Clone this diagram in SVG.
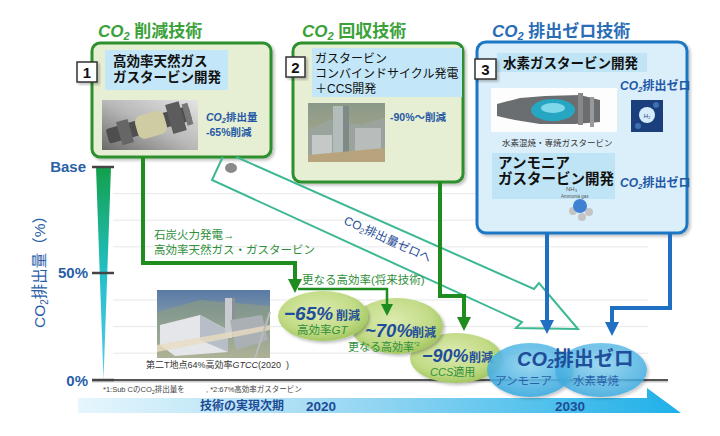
<svg xmlns="http://www.w3.org/2000/svg" width="720" height="436" viewBox="0 0 720 436">
<defs>
<style>
text{font-family:'Liberation Sans','Noto Sans CJK JP',sans-serif}
.ttl-g{fill:#3ba23b;font-size:17px;font-weight:bold}
.ttl-b{fill:#2a6db6;font-size:17px;font-weight:bold}
.boxg{fill:#e6eed3;stroke:#2f8f2f;stroke-width:3}
.boxb{fill:#dbeffa;stroke:#1f77c4;stroke-width:3}
.band{fill:#c3e7f8}
.num{fill:#fff;stroke:#333;stroke-width:1.5}
.numt{font-size:15px;font-weight:bold;fill:#111;text-anchor:middle}
.lbl{font-size:13.5px;font-weight:bold;fill:#111}
.blu{fill:#2458a6;font-weight:bold}
.grid{stroke:#e8e8e8;stroke-width:1}
.cg{fill:none;stroke:#1e8c1e;stroke-width:4}
.cb{fill:none;stroke:#1f70c2;stroke-width:4}
.gtx{fill:#2f8f3a;font-size:11.5px}
.big{fill:#1f4e9a;font-weight:bold;font-style:italic}
.sm{fill:#1f4e9a;font-weight:bold;font-size:12px}
.ax{fill:#2a5fa8;font-weight:bold;font-size:15px;text-anchor:end}
.tick{stroke:#444;stroke-width:2.5}
</style>
<marker id="ag" markerUnits="userSpaceOnUse" viewBox="0 0 14 14" markerWidth="14" markerHeight="14" refX="2" refY="7" orient="auto"><path d="M0,0 L14,7 L0,14z" fill="#1e8c1e"/></marker>
<marker id="ag2" markerUnits="userSpaceOnUse" viewBox="0 0 12 12" markerWidth="12" markerHeight="12" refX="2" refY="6" orient="auto"><path d="M0,0 L12,6 L0,12z" fill="#1e8c1e"/></marker>
<marker id="ab" markerUnits="userSpaceOnUse" viewBox="0 0 14 14" markerWidth="14" markerHeight="14" refX="2" refY="7" orient="auto"><path d="M0,0 L14,7 L0,14z" fill="#1f70c2"/></marker>
<linearGradient id="wedge" x1="0" y1="0" x2="0" y2="1"><stop offset="0" stop-color="#13a04a"/><stop offset="0.5" stop-color="#22c0c8"/><stop offset="1" stop-color="#5cc8ee"/></linearGradient>
<linearGradient id="tl" x1="0" y1="0" x2="1" y2="0"><stop offset="0" stop-color="#e6f6fd"/><stop offset="0.4" stop-color="#a6dcf4"/><stop offset="1" stop-color="#1eb0e8"/></linearGradient>
<radialGradient id="eg" cx="0.45" cy="0.4" r="0.6"><stop offset="0" stop-color="#dcebb0"/><stop offset="0.7" stop-color="#c2db86"/><stop offset="1" stop-color="#a4c862"/></radialGradient>
<radialGradient id="eb" cx="0.5" cy="0.4" r="0.6"><stop offset="0" stop-color="#8fd6f4"/><stop offset="1" stop-color="#35a8e0"/></radialGradient>
<linearGradient id="p1" x1="0" y1="1" x2="1" y2="0"><stop offset="0" stop-color="#6a6a6a"/><stop offset="0.5" stop-color="#b8b8b8"/><stop offset="1" stop-color="#e4e4e4"/></linearGradient>
<linearGradient id="p2" x1="0" y1="0" x2="0" y2="1"><stop offset="0" stop-color="#8a9a88"/><stop offset="1" stop-color="#b4aa8c"/></linearGradient>
<linearGradient id="p4" x1="0" y1="0" x2="0" y2="1"><stop offset="0" stop-color="#5a7aa6"/><stop offset="0.35" stop-color="#7a94a8"/><stop offset="1" stop-color="#d8cfb8"/></linearGradient>
<filter id="sh" x="-10%" y="-10%" width="130%" height="130%"><feDropShadow dx="2" dy="2" stdDeviation="1.5" flood-color="#000" flood-opacity="0.25"/></filter>
</defs>
<rect width="720" height="436" fill="#fff"/>

<!-- grid -->
<g id="grid">
<line class="grid" x1="113" y1="193.6" x2="648" y2="193.6"/>
<line class="grid" x1="113" y1="220.2" x2="648" y2="220.2"/>
<line class="grid" x1="113" y1="246.8" x2="648" y2="246.8"/>
<line class="grid" x1="113" y1="300" x2="648" y2="300"/>
<line class="grid" x1="113" y1="326.6" x2="648" y2="326.6"/>
<line class="grid" x1="113" y1="353.2" x2="648" y2="353.2"/>
</g>

<!-- axis -->
<g id="axis">
<polygon points="96,167 111,167 103.5,380" fill="url(#wedge)"/>
<line x1="92" y1="381.5" x2="668" y2="381.5" stroke="#ccc" stroke-width="2"/>
<line x1="92" y1="380" x2="668" y2="380" stroke="#555" stroke-width="2"/>
<line class="tick" x1="92" y1="167" x2="114" y2="167"/>
<line class="tick" x1="92" y1="273" x2="114" y2="273"/>
<line class="tick" x1="92" y1="380" x2="114" y2="380"/>
<text class="ax" x="86" y="172">Base</text>
<text class="ax" x="88" y="278">50%</text>
<text class="ax" x="88" y="386">0%</text>
<text transform="translate(45,268) rotate(-90)" text-anchor="middle" font-size="15.5" fill="#2a5fa8">CO<tspan font-size="10" dy="3">2</tspan><tspan dy="-3">排出量（%）</tspan></text>
</g>

<!-- timeline -->
<g id="timeline">
<polygon points="78,398 647,398 647,388 681,413 78,413" fill="url(#tl)"/>
<text x="200" y="410" font-size="12" font-weight="bold" fill="#1e4d96">技術の実現次期</text>
<text x="306" y="411" font-size="13.5" font-weight="bold" fill="#1e4d96">2020</text>
<text x="555" y="411" font-size="13.5" font-weight="bold" fill="#1e4d96">2030</text>
</g>

<!-- footnote -->
<text x="103" y="392" font-size="7.5" fill="#444">*1:Sub CのCO<tspan font-size="5.5" dy="1.5">2</tspan><tspan dy="-1.5">排出量を</tspan></text>
<text x="206" y="392" font-size="7.5" fill="#444">,  *2:67%高効率ガスタービン</text>

<!-- bottom photo -->
<g id="photo-gtcc">
<rect x="157" y="290" width="113" height="68" fill="url(#p4)"/>
<polygon points="157,312 200,300 270,306 270,358 157,358" fill="#8f9f7f" opacity="0.6"/>
<polygon points="160,325 200,315 228,330 228,352 175,356 160,345" fill="#e4e6ea"/>
<polygon points="200,315 228,330 228,352 200,340" fill="#b8bec8"/>
<rect x="225" y="298" width="7" height="40" fill="#c8ccd0"/>
<rect x="232" y="298" width="3" height="40" fill="#8a9096"/>
<polygon points="230,320 262,315 268,340 236,350" fill="#aab0b4"/>
<polygon points="157,345 270,325 270,330 157,352" fill="#e8dcc0" opacity="0.8"/>
<line x1="255" y1="358" x2="270" y2="312" stroke="#bbb" stroke-width="2"/>
<text x="146" y="368" font-size="9" fill="#333">第二T地点64%高効率<tspan font-style="italic">GTCC</tspan>(2020</text>
<text x="286" y="368" font-size="9" fill="#333">)</text>
</g>

<!-- Box 1 -->
<g id="node-1">
<text class="ttl-g" x="98" y="37"><tspan font-style="italic">CO</tspan><tspan font-style="italic" font-size="11" dy="3">2</tspan><tspan dy="-3"> 削減技術</tspan></text>
<rect class="boxg" x="92" y="43" width="179" height="114" rx="8" filter="url(#sh)"/>
<rect class="band" x="105" y="50" width="123" height="40"/>
<text class="lbl" x="113" y="66">高効率天然ガス</text>
<text class="lbl" x="113" y="82">ガスタービン開発</text>
<rect class="num" x="77" y="62" width="20" height="20" filter="url(#sh)"/>
<text class="numt" x="87" y="78">1</text>
<rect x="102" y="100" width="96" height="50" fill="url(#p1)"/>
<g transform="rotate(-16 150 125)">
<rect x="106" y="117" width="86" height="15" rx="3" fill="#4e4e4e"/>
<rect x="118" y="113" width="12" height="24" fill="#666"/>
<rect x="136" y="113" width="30" height="24" rx="7" fill="#cfcca4"/>
<rect x="170" y="110" width="14" height="30" fill="#5c5c5c"/>
<rect x="186" y="114" width="6" height="22" fill="#777"/>
</g>
<text class="blu" x="206" y="121" font-size="10.5"><tspan font-style="italic">CO</tspan><tspan font-style="italic" font-size="7.5" dy="2">2</tspan><tspan dy="-2">排出量</tspan></text>
<text class="blu" x="206" y="136" font-size="10.5">-65%削減</text>
</g>

<!-- Box 2 -->
<g id="node-2">
<text class="ttl-g" x="302" y="37"><tspan font-style="italic">CO</tspan><tspan font-style="italic" font-size="11" dy="3">2</tspan><tspan dy="-3"> 回収技術</tspan></text>
<rect class="boxg" x="293" y="43" width="170" height="139" rx="8" filter="url(#sh)"/>
<rect class="band" x="312" y="48" width="150" height="49"/>
<text x="315" y="63" font-size="12" fill="#111">ガスタービン</text>
<text x="315" y="78" font-size="12" fill="#111">コンバインドサイクル発電</text>
<text x="315" y="93" font-size="12" fill="#111">＋CCS開発</text>
<rect class="num" x="286" y="57" width="19" height="20" filter="url(#sh)"/>
<text class="numt" x="295.5" y="73">2</text>
<rect x="308" y="103" width="77" height="59" fill="url(#p2)"/>
<polygon points="308,130 330,120 360,125 385,118 385,162 308,162" fill="#9aa49c"/>
<rect x="312" y="135" width="20" height="20" fill="#c4c8c6"/>
<rect x="355" y="128" width="26" height="26" fill="#b8bcba"/>
<rect x="333" y="106" width="10" height="50" fill="#b2bcba"/>
<rect x="343" y="106" width="6" height="50" fill="#7f8a88"/>
<polygon points="308,155 385,148 385,162 308,162" fill="#b8a47c"/>
<text class="blu" x="390" y="121" font-size="10.5">-90%～削減</text>
</g>

<!-- Box 3 -->
<g id="node-3">
<text class="ttl-b" x="492" y="37"><tspan font-style="italic">CO</tspan><tspan font-style="italic" font-size="11" dy="3">2</tspan><tspan dy="-3"> 排出ゼロ技術</tspan></text>
<rect class="boxb" x="477" y="42" width="210" height="191" rx="9" filter="url(#sh)"/>
<rect x="497" y="53" width="150" height="19" fill="#bfe4f6"/>
<text class="lbl" x="503" y="68">水素ガスタービン開発</text>
<rect class="num" x="475" y="59" width="21" height="20" filter="url(#sh)"/>
<text class="numt" x="485.5" y="75">3</text>
<rect x="491" y="88" width="126" height="44" fill="#fdfdfd"/>
<polygon points="497,104 520,98 545,96 580,95 600,100 600,122 575,124 540,124 515,120 497,116" fill="#6a6e70"/>
<rect x="578" y="93" width="5" height="32" fill="#888"/>
<rect x="590" y="97" width="4" height="30" fill="#999"/>
<ellipse cx="553" cy="110" rx="22" ry="11" fill="#26a6c2"/>
<ellipse cx="553" cy="108" rx="12" ry="5" fill="#7fd8e8"/>
<text x="502" y="146" font-size="8.5" fill="#333">水素混焼・専焼ガスタービン</text>
<text class="blu" x="620" y="90" font-size="12"><tspan font-style="italic">CO</tspan><tspan font-style="italic" font-size="8" dy="2">2</tspan><tspan dy="-2">排出ゼロ</tspan></text>
<rect x="631" y="100" width="32" height="32" fill="#1b3f7c"/>
<circle cx="638" cy="126" r="3" fill="#3e6fb0"/>
<circle cx="656" cy="105" r="3" fill="#3e6fb0"/>
<circle cx="647" cy="115" r="8" fill="#d6ecfa"/>
<text x="647" y="117.5" font-size="6" fill="#1b3f7c" text-anchor="middle">H₂</text>
<rect x="492" y="153" width="123" height="46" fill="#bfe4f6"/>
<text x="498" y="168" font-size="14.5" font-weight="bold" fill="#111">アンモニア</text>
<text x="498" y="184" font-size="14.5" font-weight="bold" fill="#111">ガスタービン開発</text>
<text class="blu" x="620" y="187" font-size="12"><tspan font-style="italic">CO</tspan><tspan font-style="italic" font-size="8" dy="2">2</tspan><tspan dy="-2">排出ゼロ</tspan></text>
<text x="566" y="191" font-size="6" fill="#555">NH₃</text>
<text x="561" y="198" font-size="4.5" fill="#555">Ammonia gas</text>
<circle cx="573" cy="211" r="4" fill="#c4c4c4"/>
<circle cx="589" cy="212" r="4" fill="#c4c4c4"/>
<circle cx="582" cy="217" r="4" fill="#c4c4c4"/>
<circle cx="580" cy="206" r="7" fill="#3f82d4"/>
</g>

<!-- Sub C icon -->
<ellipse cx="231" cy="168" rx="6" ry="5" fill="#8a8a8a"/>

<!-- ellipses (drawn back to front) -->
<g id="node-e3">
<ellipse cx="456" cy="358" rx="46" ry="25" fill="url(#eg)" filter="url(#sh)"/>
<text class="big" x="422" y="362" font-size="18">−90%</text>
<text class="sm" x="469" y="362">削減</text>
<text x="430" y="376" font-size="11" fill="#2f8f3a"><tspan font-style="italic">CCS</tspan>適用</text>
</g>
<g id="node-e2">
<ellipse cx="397" cy="326" rx="46" ry="28" fill="url(#eg)" filter="url(#sh)"/>
<text class="big" x="365" y="337" font-size="18.5">~70%</text>
<text class="sm" x="412" y="337">削減</text>
<text x="348" y="351" font-size="11" fill="#2f8f3a">更なる高効率<tspan font-size="6" dy="-5">*2</tspan></text>
</g>
<g id="node-e1">
<ellipse cx="323" cy="316" rx="45" ry="25" fill="url(#eg)" filter="url(#sh)"/>
<text class="big" x="284" y="320" font-size="19">−65%</text>
<text class="sm" x="336" y="320">削減</text>
<text x="297" y="334" font-size="11.5" fill="#2f8f3a">高効率<tspan font-style="italic">GT</tspan></text>
</g>
<g id="node-e4">
<ellipse cx="530" cy="370" rx="43" ry="27" fill="url(#eb)" fill-opacity="0.85" filter="url(#sh)"/>
</g>
<g id="node-e5">
<ellipse cx="601" cy="370" rx="46" ry="27" fill="url(#eb)" fill-opacity="0.8" filter="url(#sh)"/>
<text x="517" y="366" font-size="20" font-weight="bold" fill="#1f4e9a"><tspan font-style="italic">CO</tspan><tspan font-style="italic" font-size="12" dy="2">2</tspan><tspan dy="-2">排出ゼロ</tspan></text>
<text x="495" y="385" font-size="11.5" fill="#2a62aa">アンモニア</text>
<text x="573" y="385" font-size="11.5" fill="#2a62aa">水素専焼</text>
</g>

<!-- connectors -->
<g id="connectors">
<path d="M222.7,157 L212,180 L522,322 L516,328 L578,329 L539,283 L534,289 L236.3,157" fill="none" stroke="#3cb894" stroke-width="2"/>
<text transform="translate(386,243) rotate(24.5)" text-anchor="middle" font-size="12" fill="#2b4f99">CO<tspan font-size="8" dy="2">2</tspan><tspan dy="-2">排出量ゼロへ</tspan></text>
<path class="cg" d="M143,157 V263 H295 V281" marker-end="url(#ag)"/>
<text class="gtx" x="154" y="239">石炭火力発電→</text>
<text class="gtx" x="154" y="254">高効率天然ガス・ガスタービン</text>
<path d="M298,289 H387 V306" fill="none" stroke="#1e8c1e" stroke-width="2.5" marker-end="url(#ag2)"/>
<text class="gtx" x="302" y="284">更なる高効率(将来技術)</text>
<path class="cg" d="M440,182 V296 H464 V319" marker-end="url(#ag)"/>
<path class="cb" d="M547,233 V322" marker-end="url(#ab)"/>
<path class="cb" d="M670,233 V308 H612 V324" marker-end="url(#ab)"/>
</g>
</svg>
